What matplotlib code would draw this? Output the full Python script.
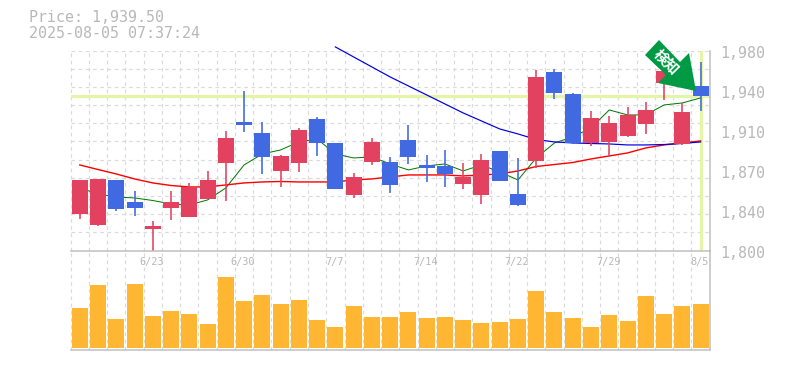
import matplotlib
matplotlib.use("Agg")
import matplotlib.pyplot as plt
from matplotlib.patches import Polygon

W, H = 785, 370
title_price = "Price: 1,939.50"
title_time = "2025-08-05 07:37:24"
last_price = 1939.5

price_ticks = [1980, 1944, 1908, 1872, 1836, 1800]
price_labels = ["1,980", "1,940", "1,910", "1,870", "1,840", "1,800"]
date_idx = [4, 9, 14, 19, 24, 29, 34]
date_labels = ["6/23", "6/30", "7/7", "7/14", "7/22", "7/29", "8/5"]

opens = [1832.9, 1823.0, 1863.5, 1843.7, 1819.4, 1838.3, 1830.2, 1846.4, 1878.8, 1915.7, 1905.8, 1871.6,
         1878.8, 1918.4, 1896.8, 1850.0, 1879.7, 1879.7, 1899.5, 1877.0, 1876.1, 1859.9, 1850.0, 1889.6,
         1850.9, 1880.6, 1960.7, 1940.9, 1896.8, 1897.7, 1903.1, 1913.9, 1950.7, 1895.9, 1948.1]
closes = [1863.5, 1864.4, 1837.4, 1838.3, 1822.1, 1843.7, 1857.2, 1863.5, 1901.3, 1913.0, 1884.2, 1885.1,
          1908.5, 1896.8, 1855.4, 1866.2, 1897.7, 1859.0, 1884.2, 1874.3, 1868.9, 1866.2, 1881.5, 1862.6,
          1841.0, 1956.2, 1941.8, 1896.8, 1919.3, 1914.8, 1922.0, 1926.5, 1961.6, 1924.7, 1939.1]
highs = [1863.5, 1864.4, 1863.5, 1853.6, 1826.6, 1853.6, 1860.8, 1871.6, 1907.6, 1943.6, 1915.7, 1886.0,
         1910.3, 1920.2, 1896.8, 1869.8, 1901.3, 1884.2, 1913.0, 1886.0, 1890.5, 1878.8, 1886.9, 1889.6,
         1883.3, 1962.5, 1963.4, 1941.8, 1925.6, 1921.1, 1929.2, 1933.7, 1967.0, 1932.8, 1969.7]
lows = [1828.4, 1822.1, 1835.6, 1831.1, 1800.0, 1827.5, 1830.2, 1846.4, 1844.6, 1906.7, 1868.9, 1857.2,
        1870.7, 1885.1, 1855.4, 1847.3, 1877.0, 1851.8, 1877.9, 1861.7, 1857.2, 1855.4, 1841.9, 1862.6,
        1840.1, 1874.3, 1936.4, 1895.9, 1894.1, 1884.2, 1902.2, 1904.9, 1935.5, 1895.0, 1925.6]
ma_short = [1856.3, 1850.9, 1848.2, 1847.3, 1845.0, 1841.9, 1841.0, 1845.5, 1856.3, 1877.0, 1886.9, 1890.5,
            1897.7, 1900.4, 1886.9, 1883.3, 1884.2, 1877.9, 1872.5, 1876.1, 1877.9, 1871.6, 1877.0, 1870.7,
            1863.5, 1883.3, 1896.8, 1902.2, 1910.3, 1926.5, 1922.0, 1922.0, 1931.0, 1932.8, 1937.3]
ma_mid = [1877.0, 1872.9, 1868.9, 1864.4, 1860.8, 1858.5, 1857.2, 1857.2, 1859.0, 1860.8, 1861.7, 1862.1,
          1861.7, 1861.7, 1861.7, 1863.5, 1864.4, 1866.2, 1868.0, 1868.0, 1868.0, 1867.1, 1868.0, 1868.9,
          1871.6, 1875.6, 1877.4, 1879.2, 1882.4, 1885.1, 1887.8, 1892.3, 1895.0, 1896.8, 1898.6]
ma_long_start = 14
ma_long = [1983.2, 1974.2, 1965.2, 1956.2, 1948.1, 1940.0, 1931.9, 1923.8, 1916.6, 1909.4, 1904.9, 1899.9,
           1897.7, 1896.8, 1896.3, 1895.9, 1895.0, 1895.0, 1895.4, 1896.3, 1897.7]
volumes = [40, 63, 29, 64, 32, 37, 34, 24, 71, 47, 53, 44, 48, 28, 21, 42, 31, 31,
           36, 30, 31, 28, 25, 26, 29, 57, 36, 30, 21, 33, 27, 52, 34, 42, 44]

RED, BLUE, ORANGE = "#E2425F", "#4169E1", "#FFB733"
GRID, AXIS, TEXT, HILITE = "#DADADA", "#BEBEBE", "#B8B8B8", "#E4F5A8"
MONO = "DejaVu Sans Mono"
PX = 0.72  # one pixel in points at dpi 100

L, R, T, M, B = 70.6, 709.7, 50.5, 250.5, 350.0
fig = plt.figure(figsize=(W / 100, H / 100), dpi=100, facecolor="white")
ax = fig.add_axes([L / W, 1 - M / H, (R - L) / W, (M - T) / H])
vx = fig.add_axes([L / W, 1 - B / H, (R - L) / W, (B - M) / H])

n = len(opens)
xs = [i + 0.5 for i in range(n)]
for a in (ax, vx):
    a.set_xlim(0, n)
    a.set_xticks([])
    a.set_yticks([])
    a.patch.set_alpha(0)
    for s in a.spines.values():
        s.set_visible(False)
    for i in range(n):
        a.axvline(i, color=GRID, lw=PX * 1.2, dashes=(3, 3), zorder=1, clip_on=False)
    a.axvline(n, color=AXIS, lw=PX * 1.5, zorder=6, clip_on=False)

ax.set_ylim(1800, 1980)
vx.set_ylim(-2, 97.5)
for k in range(1, 12):
    ax.axhline(1800 + k * 180 / 11, color=GRID, lw=PX * 1.2, dashes=(3, 3), zorder=1)
ax.axhline(1800, color=AXIS, lw=PX * 1.5, zorder=6, clip_on=False)
vx.axhline(-2, color=AXIS, lw=PX * 1.5, zorder=6, clip_on=False)

ax.axhline(last_price, color=HILITE, lw=PX * 3.2, zorder=2)
ax.axvline(xs[-1], color=HILITE, lw=PX * 3.2, zorder=2)

ax.plot(xs, ma_short, color="#007A00", lw=PX * 1.0, zorder=2.5)
ax.plot(xs, ma_mid, color="#FF0000", lw=PX * 1.4, zorder=2.6)
ax.plot(xs[ma_long_start:], ma_long, color="#0000E0", lw=PX * 1.2, zorder=2.7, clip_on=False)

bw = 16 / 18.26
for x, o, c, h, l in zip(xs, opens, closes, highs, lows):
    col = RED if c >= o else BLUE
    ax.plot([x, x], [l, h], color=col, lw=PX * 1.6, solid_capstyle="butt", zorder=3, clip_on=False)
    ax.bar(x, abs(c - o), bottom=min(o, c), width=bw, color=col, lw=0, zorder=4)

vx.bar(xs, volumes, width=bw, color=ORANGE, lw=0, zorder=3)

for v, s in zip(price_ticks, price_labels):
    ax.annotate(s, xy=(1, v), xycoords=ax.get_yaxis_transform(), xytext=(10, -2.5),
                textcoords="offset pixels", ha="left", va="center", family=MONO,
                fontsize=10.8, color=TEXT)
for i, s in zip(date_idx, date_labels):
    vx.annotate(s, xy=(xs[i], 1), xycoords=vx.get_xaxis_transform(), xytext=(-1, -12),
                textcoords="offset pixels", ha="center", va="center", family=MONO,
                fontsize=7.4, color=TEXT, zorder=7)

fig.text(29 / W, 1 - 18 / H, title_price, family=MONO, fontsize=10.8, color=TEXT, va="center", ha="left")
fig.text(29 / W, 1 - 33 / H, title_time, family=MONO, fontsize=10.8, color=TEXT, va="center", ha="left")

arrow_px = [(645, 55), (659, 40), (680, 62), (689, 53), (696, 91), (658, 83), (666, 75)]
fig.add_artist(Polygon([(x / W, 1 - y / H) for x, y in arrow_px], closed=True,
                       transform=fig.transFigure, fc="#009A44", ec="none", zorder=10))
fig.text(667 / W, 1 - 62 / H, "検知", family=["Noto Sans CJK JP", "DejaVu Sans"], fontweight="bold",
         fontsize=10.5, color="white", rotation=-45, rotation_mode="anchor",
         ha="center", va="center", zorder=11)

fig.savefig("out.png", dpi=100)
